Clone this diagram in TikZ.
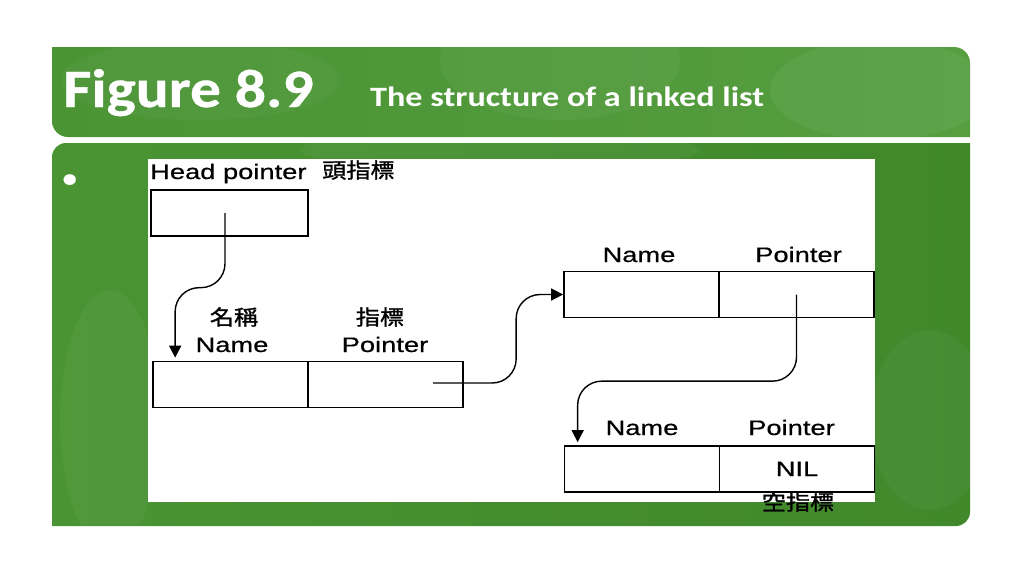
\documentclass[tikz,border=0pt]{standalone}
\usepackage{fontspec}
\setmainfont{Liberation Sans}
\newfontfamily\labfont[FakeStretch=1.3,FakeBold=0.5]{Liberation Sans}
\newfontfamily\cjkfont[FakeStretch=1.15,FakeBold=1.2]{Noto Sans CJK TC}
\newfontfamily\titlefont[FakeStretch=1.14,FakeBold=0.6]{Carlito}
\newfontfamily\subfont[FakeStretch=1.22]{Carlito}
\usetikzlibrary{arrows.meta,calc}
\definecolor{leafA}{RGB}{74,148,52}
\definecolor{leafB}{RGB}{86,158,64}
\definecolor{leafC}{RGB}{64,136,42}
\begin{document}
\begin{tikzpicture}[x=1pt,y=-1pt,
  cell/.style={draw=black,line width=1.7pt,fill=white,minimum width=155pt,minimum height=46pt,inner sep=0pt},
  conn/.style={draw=black,line width=1.4pt,-{Triangle[length=12pt,width=12pt]},rounded corners=24pt},
  lab/.style={font=\labfont\fontsize{21}{24}\selectfont,inner sep=0pt,anchor=base},
  cjk/.style={font=\cjkfont\fontsize{21}{24}\selectfont,inner sep=0pt},
  ttl/.style={text=white,inner sep=0pt,anchor=base west}]
\useasboundingbox (0,0) rectangle (1024,576);
\fill[white] (0,0) rectangle (1024,576);
% title banner
\begin{scope}
\path[clip] [rounded corners=16pt] (52,47) rectangle (970,137)
  [sharp corners] (52,47) rectangle (100,100) (920,90) rectangle (970,137);
\shade[left color=leafA,right color=leafB] (40,40) rectangle (980,140);
\fill[white,opacity=0.04] (560,60) ellipse (120 and 60);
\fill[white,opacity=0.05] (880,90) ellipse (110 and 50);
\fill[white,opacity=0.03] (200,80) ellipse (140 and 40);
\end{scope}
% main panel
\begin{scope}
\path[clip] [rounded corners=14pt] (52,143) rectangle (970,526)
  [sharp corners] (920,143) rectangle (970,200) (52,480) rectangle (100,526);
\shade[left color=leafA,right color=leafC] (40,140) rectangle (980,530);
\fill[white,opacity=0.04] (110,420) ellipse (50 and 130);
\fill[white,opacity=0.04] (930,420) ellipse (60 and 90);
\fill[white,opacity=0.04] (500,150) ellipse (200 and 20);
\end{scope}
\node[ttl,font=\titlefont\bfseries\fontsize{54}{60}\selectfont] (fig) at (63,107) {Figure 8.9};
\node[ttl,font=\subfont\bfseries\fontsize{28}{32}\selectfont] (sub) at (370,106) {The structure of a linked list};
\node[ttl,font=\titlefont\fontsize{30}{32}\selectfont] (bul) at (61,188) {•};
% white inset
\fill[white] (148,159) rectangle (875,502);
% boxes
\node[cell,minimum width=157pt] (head) at (229.5,213) {};
\node[cell] (n1name) at (230.5,384.5) {};
\node[cell] (n1ptr) at (385.5,384.5) {};
\node[cell] (n2name) at (641.5,294.5) {};
\node[cell] (n2ptr) at (796.5,294.5) {};
\node[cell] (n3name) at (642,469) {};
\node[cell] (n3ptr) at (797,469) {};
% labels
\node[lab,anchor=base west] (hp) at (150,179) {Head pointer};
\node[cjk,anchor=base west] (hpc) at (322,178) {頭指標};
\node[cjk] (l1a) at (234,317) {名稱};
\node[lab] (l1b) at (232,352) {Name};
\node[cjk] (l1c) at (380,317) {指標};
\node[lab] (l1d) at (385,352) {Pointer};
\node[lab] (l2a) at (639,262) {Name};
\node[lab] (l2b) at (798.5,262) {Pointer};
\node[lab] (l3a) at (642,435) {Name};
\node[lab] (l3b) at (791.5,435) {Pointer};
\node[lab] (nil) at (797,476) {NIL};
\node[cjk] (nilc) at (798,502) {空指標};
% connectors
\coordinate (hs) at ($(head.center)+(-4.5,0)$);
\coordinate (ht) at ($(n1name.north west)+(23,0)$);
\coordinate (hm) at ($(ht)+(0,-73)$);
\draw[conn,shorten >=3pt] (hs) |- (hm) -- (ht);
\coordinate (s1) at ($(n1ptr.center)+(47.5,-1.5)$);
\draw[conn] (s1) -| ($(n2name.west)+(-47,0)$) -- (n2name.west);
\coordinate (t3) at ($(n3name.north west)+(14,0)$);
\draw[conn,shorten >=3pt] (n2ptr.center) |- ($(t3)+(0,-64)$) -- (t3);
\end{tikzpicture}
\end{document}
